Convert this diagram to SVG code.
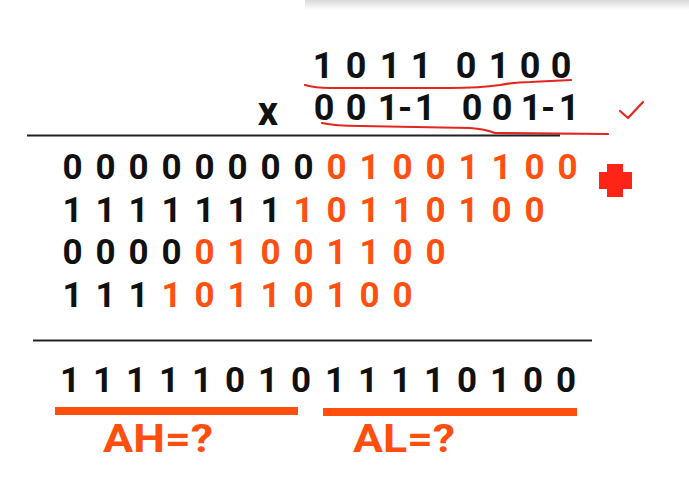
<svg xmlns="http://www.w3.org/2000/svg" width="689" height="496" viewBox="0 0 689 496">
  <defs>
    <linearGradient id="topShade" x1="0" y1="0" x2="0" y2="1">
      <stop offset="0" stop-color="#d9d9d9"/>
      <stop offset="1" stop-color="#ffffff"/>
    </linearGradient>
  </defs>
  <style>
    .d { font-family: Roboto, "Liberation Sans", sans-serif; font-weight: bold; font-size: 35px; text-anchor: middle; fill: #111; }
    .big { font-size: 36px; }
    .o { fill: #ff5010; }
    .lbl { font-family: Roboto, "Liberation Sans", sans-serif; font-weight: bold; font-size: 39px; fill: #ff4f0f; }
    .pen { fill: none; stroke: #e3261f; stroke-width: 2.2; stroke-linecap: round; stroke-linejoin: round; }
    .rule { stroke: #222; stroke-width: 2; }
    .bar { fill: #ff4f0f; }
  </style>
  <rect width="689" height="496" fill="#ffffff"/>
  <rect x="305" y="0" width="384" height="10" fill="url(#topShade)"/>

  <g id="multiplicand">
    <text class="d big" x="323 356 390 421 466 499 530 561" y="78">10110100</text>
  </g>
  <g id="multiplier">
    <text class="d" x="268" y="125" style="font-size:40px">x</text>
    <text class="d big" x="324 356 388 405 425 472 502 531 548 569" y="120">001-1001-1</text>
  </g>
  <g id="pen-marks">
    <path class="pen" d="M305,85 Q315,88 330,88 L450,88 Q480,88 500,85 Q515,82 530,82 L571,80"/>
    <path class="pen" d="M322,123 Q335,126 360,126 L470,128 Q485,129 495,133 L608,134"/>
    <path class="pen" d="M620,111 L628,118 L643,102" stroke-width="2.5"/>
  </g>
  <g id="rules">
    <line class="rule" x1="27" y1="135.5" x2="560" y2="135.5"/>
    <line class="rule" x1="33" y1="340.5" x2="592" y2="340.5"/>
  </g>
  <g id="partial-products">
    <text class="d" y="179"><tspan x="72.5 105.5 138.5 171.5 204.5 237.5 270.5 303.5">00000000</tspan><tspan class="o" x="336.5 369.5 402.5 435.5 468.5 501.5 534.5 567.5">01001100</tspan></text>
    <text class="d" y="222"><tspan x="72.5 105.5 138.5 171.5 204.5 237.5 270.5">1111111</tspan><tspan class="o" x="303.5 336.5 369.5 402.5 435.5 468.5 501.5 534.5">10110100</tspan></text>
    <text class="d" y="264"><tspan x="72.5 105.5 138.5 171.5">0000</tspan><tspan class="o" x="204.5 237.5 270.5 303.5 336.5 369.5 402.5 435.5">01001100</tspan></text>
    <text class="d" y="307"><tspan x="72.5 105.5 138.5">111</tspan><tspan class="o" x="171.5 204.5 237.5 270.5 303.5 336.5 369.5 402.5">10110100</tspan></text>
  </g>
  <g id="plus-sign">
    <path d="M607,164 H623 V172 H632 V189 H623 V197 H607 V189 H599 V172 H607 Z" fill="#ff2418"/>
  </g>
  <g id="result">
    <text class="d" y="392" x="70 103 136 169 202 235 268 301 335 368 401 434 467 500 533 566">1111101011110100</text>
  </g>
  <g id="AH">
    <rect class="bar" x="55" y="407" width="243" height="8"/>
    <text class="lbl" x="103" y="452" textLength="110" lengthAdjust="spacingAndGlyphs">AH=?</text>
  </g>
  <g id="AL">
    <rect class="bar" x="323" y="408" width="254" height="8"/>
    <text class="lbl" x="353" y="452" textLength="102" lengthAdjust="spacingAndGlyphs">AL=?</text>
  </g>
</svg>
